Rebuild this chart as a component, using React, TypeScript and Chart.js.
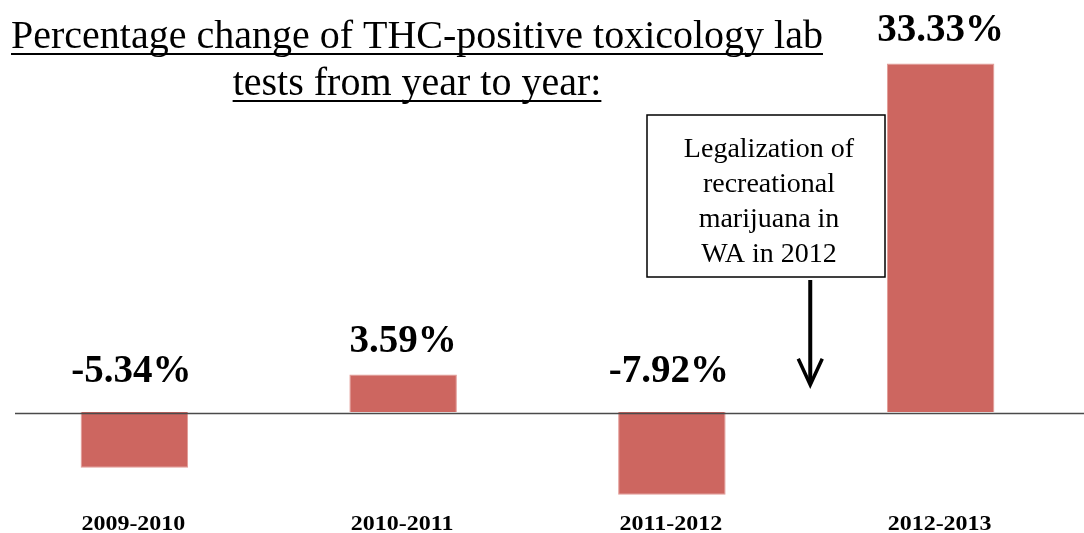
import React, { useEffect, useRef } from "react";
import { Chart, registerables } from "chart.js";

Chart.register(...registerables);

const categories = ["2009-2010", "2010-2011", "2011-2012", "2012-2013"];
const changes = [-5.34, 3.59, -7.92, 33.33];
const valueLabels = ["-5.34%", "3.59%", "-7.92%", "33.33%"];
const titleLines = [
  "Percentage change of THC-positive toxicology lab",
  "tests from year to year:",
];
const noteLines = ["Legalization of", "recreational", "marijuana in", "WA in 2012"];
const yMin = -8.9;
const yMax = 35;

const SERIF = "'Liberation Serif', 'Times New Roman', serif";

const overlayPlugin = {
  id: "overlay",
  afterDatasetsDraw(chart: any) {
    const ctx = chart.ctx as CanvasRenderingContext2D;
    const yScale = chart.scales.y;
    const xScale = chart.scales.x;
    const zeroY = yScale.getPixelForValue(0);
    const W = chart.width;

    // zero line
    ctx.save();
    ctx.strokeStyle = "#4a4a4a";
    ctx.lineWidth = 1.6;
    ctx.beginPath();
    ctx.moveTo(15, zeroY + 1.5);
    ctx.lineTo(W, zeroY + 1.5);
    ctx.stroke();
    ctx.restore();

    // value labels
    const meta = chart.getDatasetMeta(0);
    ctx.save();
    ctx.fillStyle = "#000";
    ctx.font = `bold 39px ${SERIF}`;
    ctx.textAlign = "center";
    ctx.textBaseline = "alphabetic";
    meta.data.forEach((bar: any, i: number) => {
      const v = changes[i];
      const y = v >= 0 ? bar.y - 22 : zeroY - 30;
      ctx.fillText(valueLabels[i], bar.x - (v < 0 ? 3 : 0), y);
    });
    ctx.restore();

    // category labels (slightly wide bold serif)
    ctx.save();
    ctx.fillStyle = "#000";
    ctx.font = `bold 20px ${SERIF}`;
    ctx.textAlign = "center";
    ctx.textBaseline = "alphabetic";
    categories.forEach((c, i) => {
      const x = xScale.getPixelForValue(i) - 1;
      ctx.save();
      ctx.translate(x, 530);
      ctx.scale(1.2, 1);
      ctx.fillText(c, 0, 0);
      ctx.restore();
    });
    ctx.restore();

    // title with underline
    ctx.save();
    ctx.fillStyle = "#000";
    ctx.strokeStyle = "#000";
    ctx.font = `40px ${SERIF}`;
    ctx.textAlign = "center";
    ctx.textBaseline = "alphabetic";
    const tcx = 417;
    const baselines = [48, 95];
    titleLines.forEach((t, i) => {
      const b = baselines[i];
      ctx.fillText(t, tcx, b);
      const w = ctx.measureText(t).width;
      ctx.lineWidth = 2;
      ctx.beginPath();
      ctx.moveTo(tcx - w / 2, b + 6);
      ctx.lineTo(tcx + w / 2, b + 6);
      ctx.stroke();
    });
    ctx.restore();

    // annotation box
    ctx.save();
    ctx.strokeStyle = "#000";
    ctx.lineWidth = 1.5;
    ctx.fillStyle = "#fff";
    ctx.fillRect(647, 115, 238, 162);
    ctx.strokeRect(647, 115, 238, 162);
    ctx.fillStyle = "#000";
    ctx.font = `28px ${SERIF}`;
    ctx.textAlign = "center";
    ctx.textBaseline = "alphabetic";
    noteLines.forEach((t, i) => {
      ctx.fillText(t, 769, 157 + i * 35);
    });
    ctx.restore();

    // arrow
    const ax = (xScale.getPixelForValue(2) + xScale.getPixelForValue(3)) / 2 + 4;
    const tipY = yScale.getPixelForValue(2.6);
    ctx.save();
    ctx.strokeStyle = "#000";
    ctx.lineWidth = 4;
    ctx.lineCap = "butt";
    ctx.beginPath();
    ctx.moveTo(ax, 280);
    ctx.lineTo(ax, tipY - 2);
    ctx.stroke();
    ctx.lineWidth = 3.5;
    ctx.lineJoin = "miter";
    ctx.beginPath();
    ctx.moveTo(ax - 12, tipY - 26);
    ctx.lineTo(ax, tipY);
    ctx.lineTo(ax + 12, tipY - 26);
    ctx.stroke();
    ctx.restore();
  },
};

export default function App() {
  const ref = useRef<HTMLCanvasElement | null>(null);
  useEffect(() => {
    if (!ref.current) return;
    const chart = new Chart(ref.current, {
      type: "bar",
      data: {
        labels: categories,
        datasets: [
          {
            data: changes,
            backgroundColor: "#CD6660",
            borderColor: "#E29A95",
            borderWidth: 1,
            barPercentage: 0.4,
            categoryPercentage: 1.0,
          },
        ],
      },
      options: {
        responsive: false,
        animation: false,
        layout: { padding: { left: 0, right: 9, top: 46, bottom: 28 } },
        scales: {
          x: { display: false },
          y: { display: false, min: yMin, max: yMax },
        },
        plugins: {
          legend: { display: false },
          tooltip: { enabled: false },
        },
      },
      plugins: [overlayPlugin],
    });
    return () => chart.destroy();
  }, []);
  return (
    <div style={{ position: "absolute", left: 0, top: 0, width: 1084, height: 533, background: "#fff" }}>
      <canvas ref={ref} width={1084} height={533} style={{ width: 1084, height: 533, display: "block" }} />
    </div>
  );
}
